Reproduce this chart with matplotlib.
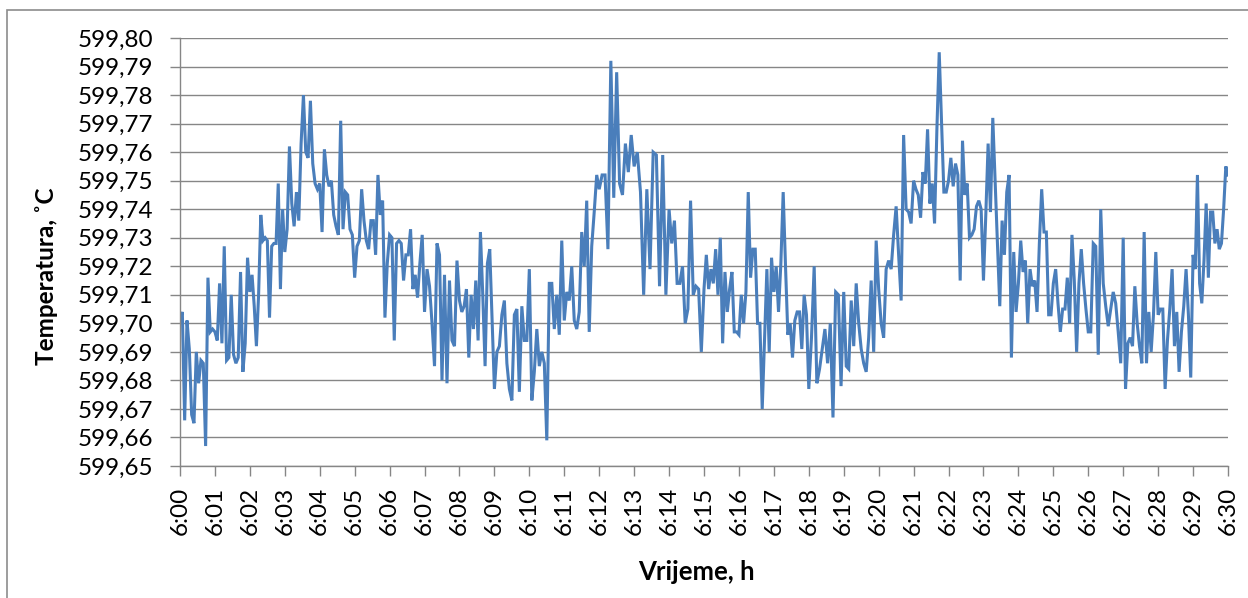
import numpy as np
import matplotlib.pyplot as plt
from matplotlib.patches import Rectangle
from matplotlib.ticker import FuncFormatter, MultipleLocator

plt.rcParams['font.family'] = ['Lato', 'DejaVu Sans']

# Temperatura po minutama (6:00 - 6:30), očitano s grafa
min_00 = [599.701, 599.704, 599.666, 599.701, 599.691, 599.668, 599.665, 599.690, 599.679, 599.687, 599.686, 599.657, 599.716, 599.697, 599.698]
min_01 = [599.697, 599.694, 599.714, 599.693, 599.727, 599.687, 599.688, 599.710, 599.689, 599.686, 599.688, 599.718, 599.683, 599.693, 599.723]
min_02 = [599.711, 599.717, 599.706, 599.692, 599.710, 599.738, 599.729, 599.730, 599.729, 599.702, 599.727, 599.728, 599.728, 599.749, 599.712, 599.740]
min_03 = [599.725, 599.733, 599.762, 599.742, 599.734, 599.746, 599.736, 599.763, 599.780, 599.760, 599.758, 599.778, 599.756, 599.749, 599.747]
min_04 = [599.749, 599.732, 599.761, 599.752, 599.748, 599.750, 599.738, 599.734, 599.731, 599.771, 599.733, 599.746, 599.745, 599.733, 599.731]
min_05 = [599.716, 599.727, 599.729, 599.747, 599.736, 599.729, 599.726, 599.736, 599.736, 599.724, 599.752, 599.738, 599.743, 599.702, 599.721]
min_06 = [599.731, 599.730, 599.694, 599.728, 599.729, 599.728, 599.715, 599.724, 599.724, 599.733, 599.712, 599.717, 599.709, 599.721, 599.731]
min_07 = [599.704, 599.719, 599.713, 599.700, 599.685, 599.728, 599.724, 599.680, 599.717, 599.679, 599.715, 599.694, 599.692, 599.722]
min_08 = [599.708, 599.704, 599.706, 599.712, 599.688, 599.710, 599.698, 599.715, 599.694, 599.732, 599.710, 599.685, 599.721, 599.726, 599.701]
min_09 = [599.677, 599.690, 599.692, 599.703, 599.708, 599.686, 599.677, 599.673, 599.703, 599.705, 599.676, 599.706, 599.694, 599.694]
min_10 = [599.719, 599.673, 599.683, 599.698, 599.685, 599.690, 599.686, 599.659, 599.714, 599.714, 599.698, 599.710, 599.696, 599.729]
min_11 = [599.701, 599.711, 599.708, 599.720, 599.701, 599.698, 599.704, 599.732, 599.720, 599.743, 599.697, 599.727, 599.739, 599.752]
min_12 = [599.747, 599.752, 599.752, 599.726, 599.792, 599.744, 599.788, 599.749, 599.745, 599.763, 599.753, 599.766]
min_13 = [599.755, 599.760, 599.746, 599.710, 599.747, 599.719, 599.760, 599.759, 599.713, 599.759, 599.710]
min_14 = [599.740, 599.728, 599.736, 599.714, 599.714, 599.720, 599.700, 599.705, 599.743, 599.710, 599.713, 599.712, 599.690]
min_15 = [599.712, 599.724, 599.712, 599.719, 599.714, 599.726, 599.710, 599.730, 599.693, 599.718, 599.704, 599.712, 599.718, 599.697, 599.697]
min_16 = [599.696, 599.710, 599.700, 599.711, 599.746, 599.716, 599.726, 599.726, 599.700, 599.700, 599.670, 599.695, 599.719, 599.690, 599.723]
min_17 = [599.711, 599.720, 599.704, 599.721, 599.746, 599.720, 599.696, 599.700, 599.688, 599.701, 599.704, 599.704, 599.691, 599.710, 599.703]
min_18 = [599.677, 599.695, 599.720, 599.679, 599.684, 599.691, 599.698, 599.686, 599.700, 599.667, 599.711, 599.710, 599.678]
min_19 = [599.711, 599.685, 599.684, 599.708, 599.692, 599.714, 599.700, 599.691, 599.686, 599.683, 599.695, 599.715, 599.690, 599.729]
min_20 = [599.712, 599.700, 599.695, 599.719, 599.722, 599.719, 599.731, 599.741, 599.724, 599.708, 599.766, 599.740, 599.739, 599.735]
min_21 = [599.750, 599.747, 599.745, 599.737, 599.753, 599.749, 599.768, 599.742, 599.749, 599.735, 599.768, 599.795, 599.771, 599.746, 599.746]
min_22 = [599.750, 599.758, 599.748, 599.756, 599.752, 599.715, 599.764, 599.745, 599.749, 599.730, 599.731, 599.733, 599.741, 599.743, 599.740]
min_23 = [599.715, 599.738, 599.763, 599.739, 599.772, 599.750, 599.728, 599.706, 599.736, 599.724, 599.746, 599.752, 599.688, 599.725, 599.704]
min_24 = [599.714, 599.729, 599.718, 599.722, 599.700, 599.719, 599.713, 599.715, 599.704, 599.728, 599.747, 599.732, 599.732, 599.703, 599.703]
min_25 = [599.714, 599.719, 599.707, 599.697, 599.705, 599.705, 599.716, 599.700, 599.731, 599.715, 599.690, 599.714, 599.726, 599.714, 599.705]
min_26 = [599.697, 599.697, 599.728, 599.727, 599.689, 599.740, 599.714, 599.706, 599.699, 599.705, 599.711, 599.707, 599.697, 599.686]
min_27 = [599.730, 599.677, 599.693, 599.695, 599.692, 599.713, 599.700, 599.692, 599.686, 599.732, 599.686, 599.704, 599.690, 599.703, 599.725]
min_28 = [599.703, 599.705, 599.705, 599.677, 599.694, 599.705, 599.719, 599.692, 599.704, 599.683, 599.697, 599.706, 599.719, 599.703, 599.681]
min_29 = [599.724, 599.719, 599.752, 599.714, 599.707, 599.722, 599.742, 599.716, 599.739, 599.739, 599.728, 599.733, 599.726, 599.728, 599.740, 599.755, 599.752]

minute_blocks = [min_00, min_01, min_02, min_03, min_04, min_05, min_06, min_07, min_08, min_09,
                 min_10, min_11, min_12, min_13, min_14, min_15, min_16, min_17, min_18, min_19,
                 min_20, min_21, min_22, min_23, min_24, min_25, min_26, min_27, min_28, min_29]

tick_labels = ['6:%02d' % m for m in range(31)]

# vremena u minutama od 6:00, ravnomjerno unutar svake minute
vrijeme = []
temperatura = []
for m, blok in enumerate(minute_blocks):
    n = len(blok)
    if m == len(minute_blocks) - 1:
        t = m + np.arange(n) / (n - 1)
    else:
        t = m + np.arange(n) / n
    vrijeme.extend(t)
    temperatura.extend(blok)

fig = plt.figure(figsize=(12.48, 5.98), dpi=100)
ax = fig.add_axes([180 / 1248, 1 - 466 / 598, 1048 / 1248, 428 / 598])

ax.plot(vrijeme, temperatura, color='#4A7EBB', lw=2.2, solid_joinstyle='miter')

ax.set_xlim(0, 30)
ax.set_ylim(599.65, 599.80)
ax.yaxis.set_major_locator(MultipleLocator(0.01))
ax.yaxis.set_major_formatter(FuncFormatter(lambda v, p: ('%.2f' % v).replace('.', ',')))
ax.set_xticks(range(31))
ax.set_xticklabels(tick_labels, rotation=90)

siva = '#868686'
ax.grid(axis='y', color=siva, lw=1.0)
ax.set_axisbelow(True)
for s in ['top', 'right']:
    ax.spines[s].set_visible(False)
for s in ['left', 'bottom']:
    ax.spines[s].set_color(siva)
    ax.spines[s].set_linewidth(1.0)
ax.tick_params(axis='both', direction='out', length=7, width=1.0, color=siva,
               labelsize=17.5, labelcolor='black')
ax.tick_params(axis='y', pad=12)
ax.tick_params(axis='x', pad=8)

fig.text(47 / 1248, 1 - 276 / 598, 'Temperatura, ˚C', rotation=90, ha='center', va='center',
         fontsize=17.5, fontweight='bold')
fig.text(696 / 1248, 1 - 572 / 598, 'Vrijeme, h', ha='center', va='center',
         fontsize=18.5, fontweight='bold')

# okvir grafikona
fig.patches.append(Rectangle((7 / 1248, -0.1), 1.2, 1.1 - 10 / 598, transform=fig.transFigure,
                             fill=False, edgecolor='#8c8c8c', lw=1.2))

fig.savefig('out.png', dpi=100)
